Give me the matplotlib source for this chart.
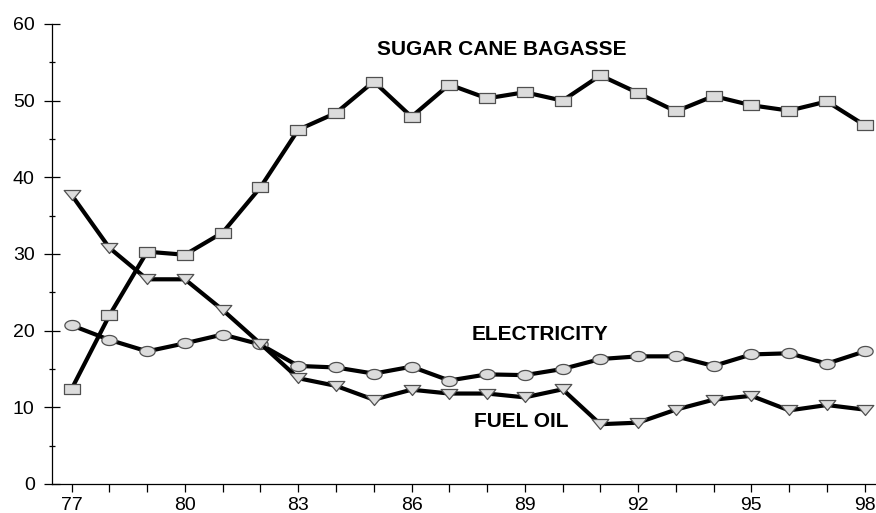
import numpy as np
import matplotlib
matplotlib.use("Agg")
import matplotlib.pyplot as plt
from matplotlib.path import Path
from matplotlib.ticker import MultipleLocator, FixedLocator

plt.rcParams['font.family'] = ['Liberation Sans', 'DejaVu Sans']

years = list(range(77, 99))
bagasse = [12.4, 22.0, 30.3, 29.9, 32.8, 38.7, 46.2, 48.4, 52.5, 47.9, 52.1,
           50.3, 51.1, 50.0, 53.3, 51.0, 48.6, 50.6, 49.4, 48.7, 49.9, 46.8]
electricity = [20.7, 18.8, 17.3, 18.35, 19.5, 18.2, 15.4, 15.2, 14.4, 15.3, 13.5,
               14.3, 14.2, 15.0, 16.3, 16.65, 16.65, 15.4, 16.9, 17.05, 15.7, 17.3]
fuel_oil = [37.7, 30.8, 26.7, 26.7, 22.7, 18.3, 13.8, 12.8, 11.0, 12.3, 11.8,
            11.8, 11.3, 12.35, 7.8, 8.0, 9.7, 11.0, 11.5, 9.6, 10.3, 9.7]
labels = ["SUGAR CANE BAGASSE", "ELECTRICITY", "FUEL OIL"]
label_pos = [(88.4, 56.7), (89.4, 19.5), (88.9, 8.15)]
xtick_labels = ["77", "80", "83", "86", "89", "92", "95", "98"]

# custom (horizontally stretched) markers
rect = Path([(-1, -0.66), (1, -0.66), (1, 0.66), (-1, 0.66), (-1, -0.66)],
            [Path.MOVETO, Path.LINETO, Path.LINETO, Path.LINETO, Path.CLOSEPOLY])
t = np.linspace(0, 2 * np.pi, 60)
ell = Path(np.column_stack([np.cos(t), 0.66 * np.sin(t)]), closed=True)
tri = Path([(-1, 0.6), (1, 0.6), (0, -0.6), (-1, 0.6)],
           [Path.MOVETO, Path.LINETO, Path.LINETO, Path.CLOSEPOLY])

fig = plt.figure(figsize=(8.76, 5.13), dpi=100)
ax = fig.add_axes([52 / 876, 29 / 513, (876 - 52) / 876, 460 / 513])

fill = '#dcdcdc'
edge = '#505050'
ax.plot(years, bagasse, color='black', lw=3, marker=rect, ms=11.5,
        mfc=fill, mec=edge, mew=0.9, zorder=3, clip_on=False)
ax.plot(years, electricity, color='black', lw=3, marker=ell, ms=11,
        mfc=fill, mec=edge, mew=0.9, zorder=3, clip_on=False)
ax.plot(years, fuel_oil, color='black', lw=3, marker=tri, ms=12,
        mfc=fill, mec=edge, mew=0.9, zorder=3, clip_on=False)

for txt, (x, y) in zip(labels, label_pos):
    ax.text(x, y, txt, fontsize=15, fontweight='bold', ha='center', va='center')

ax.set_xlim(76.48, 98.3)
ax.set_ylim(0, 60)

ax.xaxis.set_major_locator(FixedLocator(list(range(77, 99, 3))))
ax.set_xticklabels(xtick_labels)
ax.xaxis.set_minor_locator(FixedLocator([y for y in years if (y - 77) % 3 != 0]))
ax.yaxis.set_major_locator(MultipleLocator(10))
ax.yaxis.set_minor_locator(MultipleLocator(5))

ax.tick_params(axis='x', which='both', direction='out', length=6, width=0.9,
               labelsize=14, pad=3.5)
ax.tick_params(axis='y', which='major', direction='inout', length=11, width=0.9,
               labelsize=14, pad=7)
ax.tick_params(axis='y', which='minor', direction='inout', length=5, width=0.9)

for s in ['top', 'right']:
    ax.spines[s].set_visible(False)
for s in ['left', 'bottom']:
    ax.spines[s].set_linewidth(0.9)

fig.savefig('out.png', dpi=100)
